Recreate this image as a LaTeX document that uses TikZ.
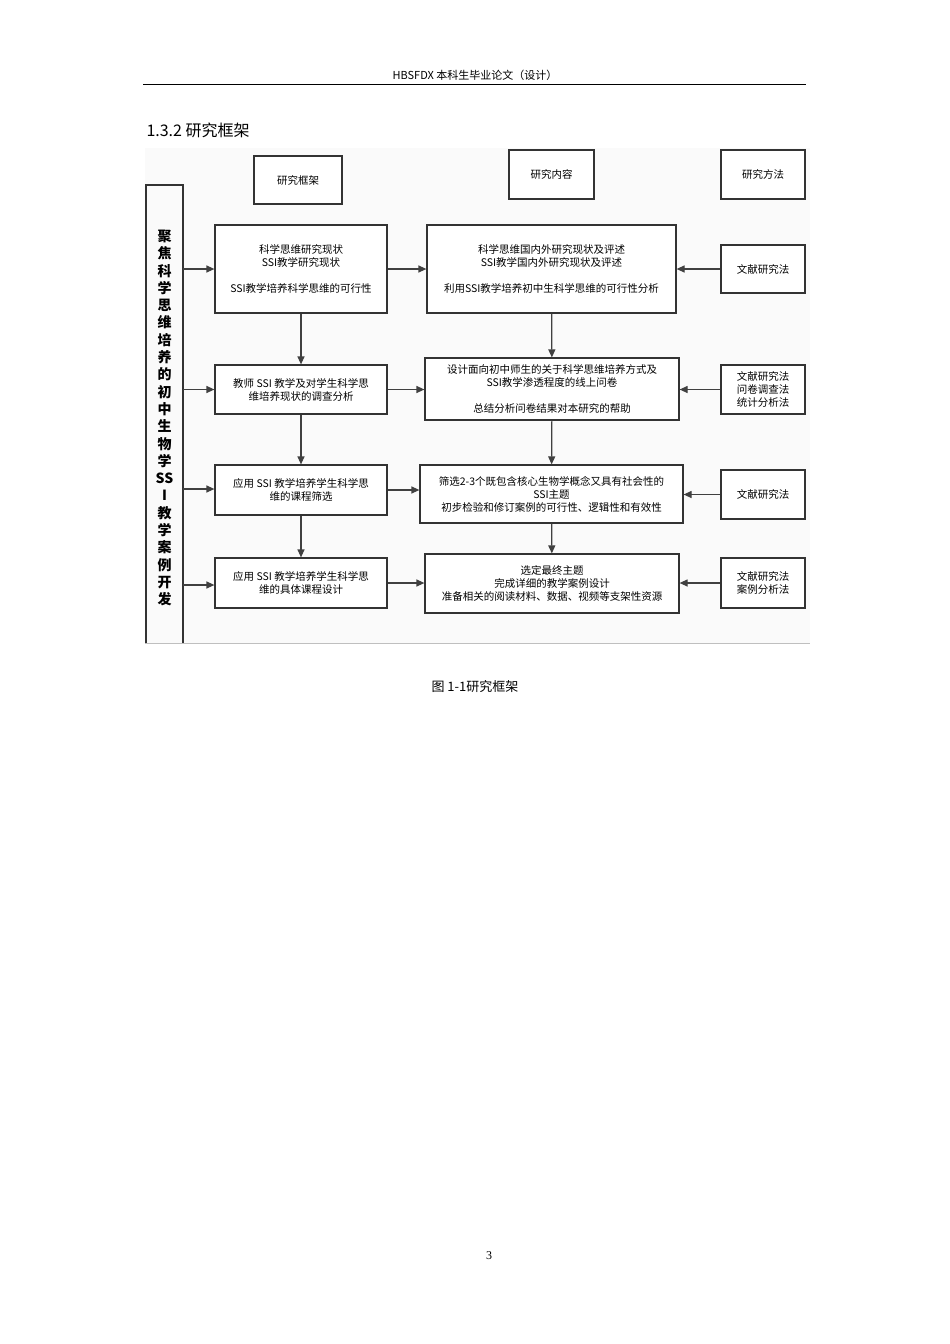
\documentclass[tikz,border=0pt]{standalone}
\usepackage{fontspec}
\setmainfont{Liberation Serif}
\newfontfamily\cjk{Noto Sans CJK SC}
\usetikzlibrary{arrows.meta}
\begin{document}
\begin{tikzpicture}[x=1pt,y=-1pt,
  bx/.style={draw=black!80,line width=1.2pt,fill=white,align=center,font=\cjk\fontsize{10.5}{13}\selectfont,inner sep=0pt},
  ar/.style={-{Triangle[length=8pt,width=7pt]},line width=1.2pt,draw=black!75}]
\useasboundingbox (0,0) rectangle (950,1344);
\node[font=\cjk\fontsize{11}{13}\selectfont] (hdr) at (475,75) {HBSFDX 本科生毕业论文（设计）};
\draw[line width=0.8pt] (143,84) -- (806,84);
\node[anchor=west,font=\cjk\fontsize{16}{18}\selectfont] (ttl) at (143,130) {1.3.2 研究框架};
\fill[black!2] (145,148) rectangle (810,643);
\draw[black!25,line width=0.8pt] (145,643) -- (810,643);
% left tall box
\draw[black!80,line width=1.2pt] (146,643) -- (146,185) -- (183,185) -- (183,643);
\node[align=center,font=\cjk\bfseries\fontsize{14}{17.3}\selectfont] (lt) at (164.5,418) {聚\\焦\\科\\学\\思\\维\\培\\养\\的\\初\\中\\生\\物\\学\\SS\\I\\教\\学\\案\\例\\开\\发};
% headers
\node[bx,minimum width=88pt,minimum height=48pt] (h1) at (298,180) {研究框架};
\node[bx,minimum width=85pt,minimum height=49pt] (h2) at (551.5,174.5) {研究内容};
\node[bx,minimum width=84pt,minimum height=49pt] (h3) at (763,174.5) {研究方法};
% col1
\node[bx,minimum width=172pt,minimum height=88pt] (a1) at (301,269) {科学思维研究现状\\SSI教学研究现状\\[13pt]SSI教学培养科学思维的可行性};
\node[bx,minimum width=172pt,minimum height=49pt] (a2) at (301,389.5) {教师 SSI 教学及对学生科学思\\维培养现状的调查分析};
\node[bx,minimum width=172pt,minimum height=50pt] (a3) at (301,490) {应用 SSI 教学培养学生科学思\\维的课程筛选};
\node[bx,minimum width=172pt,minimum height=50pt] (a4) at (301,583) {应用 SSI 教学培养学生科学思\\维的具体课程设计};
% col2
\node[bx,minimum width=249pt,minimum height=88pt] (b1) at (551.5,269) {科学思维国内外研究现状及评述\\SSI教学国内外研究现状及评述\\[13pt]利用SSI教学培养初中生科学思维的可行性分析};
\node[bx,minimum width=254pt,minimum height=62pt] (b2) at (552,389) {设计面向初中师生的关于科学思维培养方式及\\SSI教学渗透程度的线上问卷\\[13pt]总结分析问卷结果对本研究的帮助};
\node[bx,minimum width=263pt,minimum height=58pt] (b3) at (551.5,494) {筛选2-3个既包含核心生物学概念又具有社会性的\\SSI主题\\初步检验和修订案例的可行性、逻辑性和有效性};
\node[bx,minimum width=254pt,minimum height=59pt] (b4) at (552,583.5) {选定最终主题\\完成详细的教学案例设计\\准备相关的阅读材料、数据、视频等支架性资源};
% col3
\node[bx,minimum width=84pt,minimum height=48pt] (c1) at (763,269) {文献研究法};
\node[bx,minimum width=84pt,minimum height=49pt] (c2) at (763,389.5) {文献研究法\\问卷调查法\\统计分析法};
\node[bx,minimum width=84pt,minimum height=49pt] (c3) at (763,494.5) {文献研究法};
\node[bx,minimum width=84pt,minimum height=50pt] (c4) at (763,583) {文献研究法\\案例分析法};
% arrows
\foreach \y/\t in {269/a1,389.5/a2,489/a3,585/a4}{\draw[ar] (183,\y) -- (\t.west |- 0,\y);}
\draw[ar] (a1) -- (b1);
\draw[ar] (a2.east) -- (b2.west |- a2.east);
\draw[ar] (a3.east) -- (b3.west |- a3.east);
\draw[ar] (a4.east) -- (b4.west |- a4.east);
\draw[ar] (c1) -- (b1);
\draw[ar] (c2) -- (c2 -| b2.east);
\draw[ar] (c3) -- (c3 -| b3.east);
\draw[ar] (c4) -- (c4 -| b4.east);
\draw[ar] (a1) -- (a2); \draw[ar] (a2) -- (a3); \draw[ar] (a3) -- (a4);
\draw[ar] (b1) -- (b2); \draw[ar] (b2) -- (b3); \draw[ar] (b3) -- (b4);
\node[font=\cjk\fontsize{13}{15}\selectfont] (cap) at (475,687) {图 1-1研究框架};
\node[font=\fontsize{12}{14}\selectfont] (pg) at (489,1256) {3};
\end{tikzpicture}
\end{document}
